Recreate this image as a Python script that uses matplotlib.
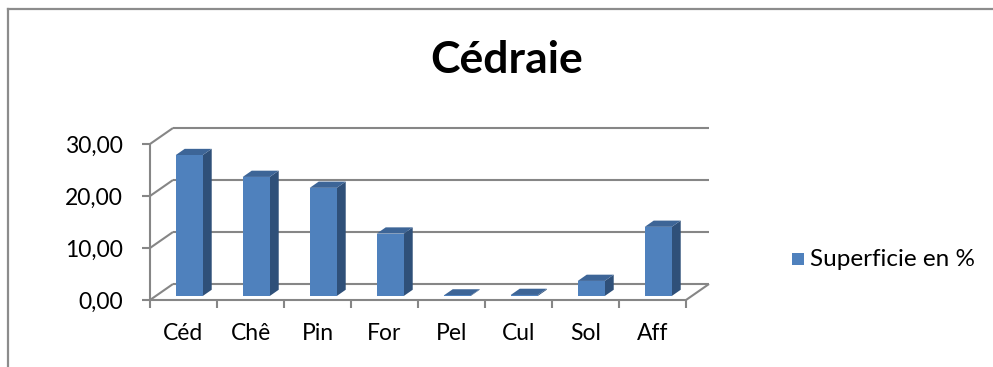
import matplotlib.pyplot as plt
from matplotlib.patches import Polygon
from matplotlib.lines import Line2D

categories = ['Céd', 'Chê', 'Pin', 'For', 'Pel', 'Cul', 'Sol', 'Aff']
superficie = [27.1, 22.9, 20.8, 12.0, 0.1, 0.2, 2.9, 13.3]
yticks = [0, 10, 20, 30]
ytick_labels = ['0,00', '10,00', '20,00', '30,00']

plt.rcParams['font.family'] = ['Lato', 'DejaVu Sans']

W, H = 993, 367
fig = plt.figure(figsize=(W / 100, H / 100), dpi=100)
ax = fig.add_axes([0, 0, 1, 1])
ax.axis('off')

# one category = 67 px, one unit of value = 5.2 px, origin of the front floor at (150, 300)
CAT_PX, VAL_PX = 67.0, 5.2
X0, Y0 = 150.0, H - 300.0
ax.set_xlim(-X0 / CAT_PX, (W - X0) / CAT_PX)
ax.set_ylim(-Y0 / VAL_PX, (H - Y0) / VAL_PX)

# oblique depth: full depth shifts 23 px right, 16 px up
DX, DY = 23.0 / CAT_PX, 16.0 / VAL_PX


def pt(x, v, d=0.0):
    return (x + d * DX, v + d * DY)


grid_kw = dict(color='#868686', lw=1.5, solid_capstyle='butt', zorder=1)
n = len(categories)

# back wall gridlines and left wall diagonals
for v in yticks:
    (xa, ya), (xb, yb) = pt(0, v, 1), pt(n, v, 1)
    ax.plot([xa, xb], [ya, yb], **grid_kw)
    (xa, ya), (xb, yb) = pt(0, v, 0), pt(0, v, 1)
    ax.plot([xa, xb], [ya, yb], **grid_kw)

# floor edges and front axes
(xa, ya), (xb, yb) = pt(n, 0, 0), pt(n, 0, 1)
ax.plot([xa, xb], [ya, yb], **grid_kw)
ax.plot([0, n], [0, 0], **grid_kw)
ax.plot([0, 0], [0, yticks[-1]], **grid_kw)

tick_x = 8 / CAT_PX
tick_v = 8 / VAL_PX
for v, lab in zip(yticks, ytick_labels):
    ax.plot([-tick_x, 0], [v, v], **grid_kw)
    ax.text(-27 / CAT_PX, v - 0.4, lab, ha='right', va='center', fontsize=16.5, color='black')
for i in range(n + 1):
    ax.plot([i, i], [0, -tick_v], **grid_kw)
for i, lab in enumerate(categories):
    ax.text(i + 0.5, -34 / VAL_PX, lab, ha='center', va='center', fontsize=16.5, color='black')

# 3D columns
front_c, side_c, top_c = '#4F81BD', '#2F5079', '#3D6597'
bw = 27 / CAT_PX
d0, d1 = 0.25, 0.64
for i, val in enumerate(superficie):
    xl, xr = i + 0.5 - bw / 2, i + 0.5 + bw / 2
    side = [pt(xr, 0, d0), pt(xr, 0, d1), pt(xr, val, d1), pt(xr, val, d0)]
    top = [pt(xl, val, d0), pt(xr, val, d0), pt(xr, val, d1), pt(xl, val, d1)]
    front = [pt(xl, 0, d0), pt(xr, 0, d0), pt(xr, val, d0), pt(xl, val, d0)]
    ax.add_patch(Polygon(side, closed=True, fc=side_c, ec='none', zorder=3))
    ax.add_patch(Polygon(top, closed=True, fc=top_c, ec='none', zorder=3))
    ax.add_patch(Polygon(front, closed=True, fc=front_c, ec='none', zorder=4))

# title
fig.text(507 / W, 1 - 60 / H, 'Cédraie', ha='center', va='center',
         fontsize=32, fontweight='bold', color='black')

# legend
fig.patches.append(plt.Rectangle((792 / W, 1 - 265 / H), 12 / W, 12 / H,
                                 transform=fig.transFigure, fc=front_c, ec='none'))
fig.text(810 / W, 1 - 259 / H, 'Superficie en %', ha='left', va='center',
         fontsize=17.5, color='black')

# chart frame
fig.add_artist(Line2D([8 / W, 1], [1 - 9 / H, 1 - 9 / H], transform=fig.transFigure,
                      color='#8c8c8c', lw=1.6))
fig.add_artist(Line2D([8 / W, 8 / W], [0, 1 - 9 / H], transform=fig.transFigure,
                      color='#8c8c8c', lw=1.6))

fig.savefig('out.png', dpi=100)
